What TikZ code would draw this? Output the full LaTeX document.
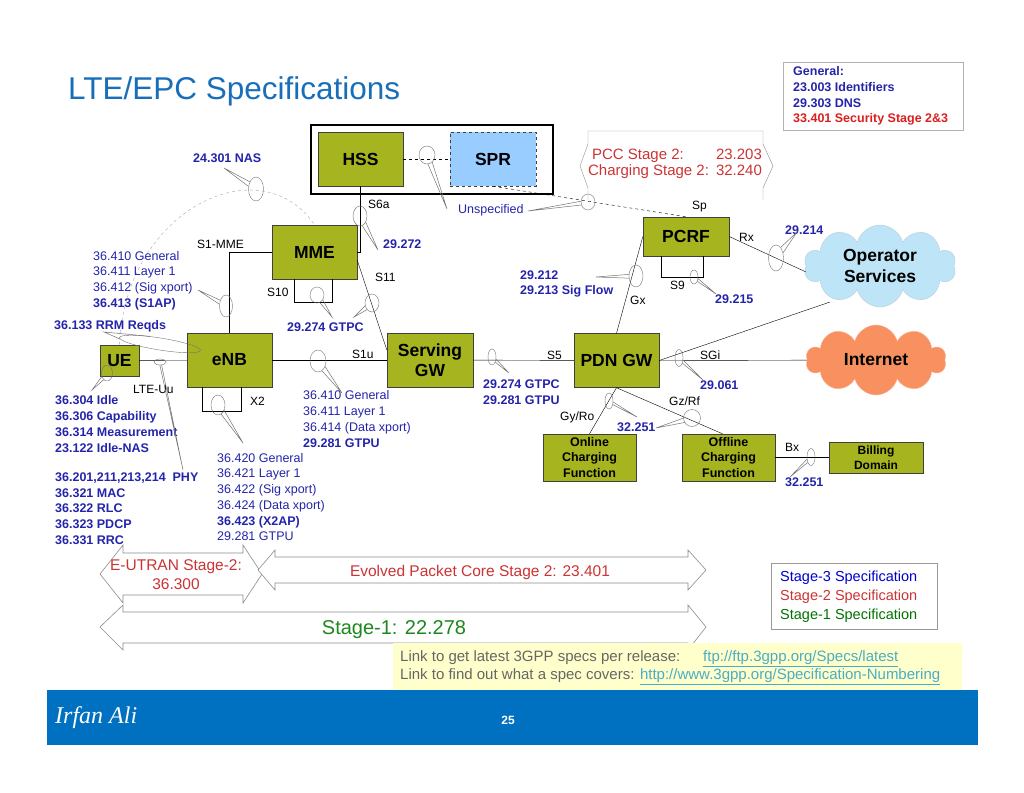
\documentclass[tikz,border=0pt]{standalone}
\usepackage{fontspec}
\setmainfont{Liberation Sans}
\newfontfamily\authorfont{Liberation Serif}
\usetikzlibrary{shapes.geometric,shapes.symbols,calc}

\definecolor{nodegreen}{RGB}{166,180,32}
\definecolor{sprblue}{RGB}{153,204,255}
\definecolor{specblue}{RGB}{36,36,170}
\definecolor{specred}{RGB}{220,30,30}
\definecolor{stagered}{RGB}{204,51,51}
\definecolor{stagegreen}{RGB}{30,135,30}
\definecolor{titleblue}{RGB}{25,110,185}
\definecolor{barblue}{RGB}{0,112,192}
\definecolor{cloudblue}{RGB}{190,228,248}
\definecolor{cloudorange}{RGB}{248,145,95}
\definecolor{linkblue}{RGB}{75,172,198}
\definecolor{notebg}{RGB}{255,255,204}

% ellipse marker plus its pointer to a label
\newcommand{\balloon}[2]{%
  \draw[wedge] let \p1=($(#2)-(#1.center)$), \n1={atan2(\y1,\x1)},
    \n2={\n1+15}, \n3={\n1-15} in (#1.\n2) -- (#2) -- (#1.\n3);}

\begin{document}
\begin{tikzpicture}[x=1pt,y=-1pt,
  nebox/.style={draw=black!75, fill=nodegreen, inner sep=0pt, align=center,
    minimum width=85, minimum height=54, font=\fontsize{17.5}{20}\selectfont\bfseries},
  smallbox/.style={nebox, minimum width=93, minimum height=47,
    font=\fontsize{12.5}{15.5}\selectfont\bfseries},
  iface/.style={anchor=west, inner sep=0pt, font=\fontsize{12}{14}\selectfont},
  spec/.style={anchor=west, inner sep=0pt, align=left, text=specblue,
    font=\fontsize{12.5}{15.7}\selectfont},
  bspec/.style={spec, font=\fontsize{12.5}{15.7}\selectfont\bfseries},
  ring/.style 2 args={draw=black!55, ellipse, inner sep=0pt,
    minimum width=#1, minimum height=#2},
  wedge/.style={draw=black!55, line width=0.5pt},
  stagearrow/.style={draw=black!45, fill=white, line width=0.6pt},
  ]
\useasboundingbox (0,0) rectangle (1024,792);

% title and general box
\node[anchor=west, inner sep=0pt, text=titleblue, font=\fontsize{31.5}{36}\selectfont] (title) at (68,91) {LTE/EPC Specifications};
\node[draw=black!30, anchor=north west, minimum width=180, minimum height=68, inner sep=0pt] (genbox) at (783,62) {};
\node[bspec] (gentext) at (793,96) {General:\\23.003 Identifiers\\29.303 DNS\\\textcolor{specred}{33.401 Security Stage 2\&3}};

% HSS / SPR
\node[draw, line width=1.6pt, anchor=north west, minimum width=242, minimum height=69, inner sep=0pt] (hssframe) at (310,124) {};
\node[nebox] (hss) at (360.5,159) {HSS};
\node[nebox, fill=sprblue, dashed, minimum width=86] (spr) at (493,159) {SPR};

% network elements
\node[nebox] (mme) at (314.5,252) {MME};
\node[nebox] (enb) at (229.5,360) {eNB};
\node[nebox, minimum width=39, minimum height=31] (ue) at (119.5,360.5) {UE};
\node[nebox, minimum width=86] (sgw) at (430,360) {Serving\\GW};
\node[nebox] (pdn) at (616.5,360.5) {PDN GW};
\node[nebox, minimum width=86, minimum height=39] (pcrf) at (686,236.5) {PCRF};
\node[smallbox] (ocf) at (589.5,457.5) {Online\\Charging\\Function};
\node[smallbox] (ofcf) at (728.5,457.5) {Offline\\Charging\\Function};
\node[smallbox, minimum width=94, minimum height=31, font=\fontsize{12}{14.5}\selectfont\bfseries] (bill) at (876,457.5) {Billing\\Domain};

% clouds
\node[cloud, cloud puffs=10, cloud ignores aspect, draw=cloudblue!80!black!70, fill=cloudblue, minimum width=152, minimum height=82, inner sep=0pt, align=center, font=\fontsize{17.5}{21.5}\selectfont\bfseries] (ops) at (880,266) {Operator\\Services};
\node[cloud, cloud puffs=10, cloud ignores aspect, draw=cloudorange!70!white, fill=cloudorange, minimum width=140, minimum height=70, inner sep=0pt, font=\fontsize{17.5}{20}\selectfont\bfseries] (inet) at (876,360) {Internet};
\coordinate (opsfoot) at (830,302);

% interfaces
\draw (ue) -- (enb);
\draw (enb) -- (sgw);
\draw (sgw) -- (pdn);
\draw (pdn.east) -- (inet);
\draw (mme.west) -| (enb.north);
\draw (hss.south) |- (mme.east);
\draw ([yshift=-8pt]mme.east) -- ([yshift=10pt]sgw.west);
\draw (pcrf.west) -- (pdn.north);
\draw (pcrf.east) -- ([yshift=-6pt]ops.west);
\draw (pdn.east) -- (opsfoot);
\draw (pdn.south) -- (ocf.north);
\draw (pdn.south) -- ([xshift=-6pt]ofcf.north);
\draw (ofcf.east) -- (bill.west);
\draw[dashed] (hss.east) -- (spr.west);
\draw[dashed] (spr.south) -- (pcrf.north);
\draw[dashed, draw=black!35] (ue.north) .. controls (125,210) and (260,145) .. (mme.north); % NAS
\draw ([xshift=-20pt]mme.south) -- ++(0,23) -- ++(38,0) -- ++(0,-23);    % S10
\draw ([xshift=-27.5pt]enb.south) -- ++(0,24) -- ++(39,0) -- ++(0,-24);  % X2
\draw ([xshift=-25pt]pcrf.south) -- ++(0,21) -- ++(42,0) -- ++(0,-21);   % S9

\node[iface] (s1mme) at (197,244) {S1-MME};
\node[iface] (s6a) at (368,204) {S6a};
\node[iface] (s11) at (375,277) {S11};
\node[iface] (s10) at (267,292) {S10};
\node[iface] (lteuu) at (133,389) {LTE-Uu};
\node[iface] (x2) at (250,401) {X2};
\node[iface] (s1u) at (352,354) {S1u};
\node[iface] (s5) at (547,355) {S5};
\node[iface] (sp) at (692,207) {Sp};
\node[iface] (rx) at (739,237) {Rx};
\node[iface] (s9) at (670,285) {S9};
\node[iface] (gx) at (630,300) {Gx};
\node[iface] (sgi) at (700,355) {SGi};
\node[iface] (gyro) at (560,417) {Gy/Ro};
\node[iface] (gzrf) at (669,401) {Gz/Rf};
\node[iface] (bx) at (785,447) {Bx};

% specification labels
\node[bspec] (nas) at (193,158) {24.301 NAS};
\node[spec] (unspec) at (458,210) {Unspecified};
\node[bspec] (hssspec) at (383,244) {29.272};
\node[spec] (s1apspec) at (93,280.5) {36.410 General\\36.411 Layer 1\\36.412 (Sig xport)\\\textbf{36.413 (S1AP)}};
\node[bspec] (gtpc) at (287,327) {29.274 GTPC};
\node[bspec] (rrm) at (54,326) {36.133 RRM Reqds};
\node[bspec] (idle) at (55,424) {36.304 Idle\\36.306 Capability\\36.314 Measurement\\23.122 Idle-NAS};
\node[bspec] (radio) at (55,508.5) {36.201,211,213,214\ \ PHY\\36.321 MAC\\36.322 RLC\\36.323 PDCP\\36.331 RRC};
\node[spec] (x2spec) at (217,497) {36.420 General\\36.421 Layer 1\\36.422 (Sig xport)\\36.424 (Data xport)\\\textbf{36.423 (X2AP)}\\29.281 GTPU};
\node[spec] (s1uspec) at (303,419) {36.410 General\\36.411 Layer 1\\36.414 (Data xport)\\\textbf{29.281 GTPU}};
\node[bspec] (s5spec) at (483,392.5) {29.274 GTPC\\29.281 GTPU};
\node[bspec] (gxspec) at (520,284) {29.212\\29.213 Sig Flow};
\node[bspec] (rxspec) at (785,230) {29.214};
\node[bspec] (s9spec) at (715,299) {29.215};
\node[bspec] (sgispec) at (700,385) {29.061};
\node[bspec] (chgspec) at (617,427) {32.251};
\node[bspec] (bxspec) at (785,482) {32.251};

% markers
\node[ring={15}{24}] (nasring) at (256,189) {};
\node[ring={16}{18}] (hssring) at (427,155) {};
\node[ring={14}{16}] (spring) at (588,202) {};
\node[ring={14}{20}] (s6aring) at (360,216) {};
\node[ring={13}{22}] (s1mmering) at (226,306) {};
\node[ring={14}{16}] (s10ring) at (317,295) {};
\node[ring={14}{18}] (s11ring) at (372,303) {};
\node[ring={82}{12}, rotate=-9] (rrmring) at (160,344) {};
\node[ring={12}{6}] (uuring) at (160,362) {};
\node[ring={11}{16}] (uering) at (107,373) {};
\node[ring={14}{20}] (x2ring) at (218,405) {};
\node[ring={16}{22}] (s1uring) at (318,361) {};
\node[ring={8}{16}] (s5ring) at (492,357) {};
\node[ring={14}{22}] (gxring) at (636,276) {};
\node[ring={15}{26}] (rxring) at (776,258) {};
\node[ring={8}{14}] (s9ring) at (694,277) {};
\node[ring={8}{17}] (sgiring) at (679,358) {};
\node[ring={8}{16}] (gyroring) at (609,401) {};
\node[ring={17}{17}] (gzrfring) at (692,418) {};
\node[ring={8}{17}] (bxring) at (811,457) {};
\balloon{nasring}{224,168}
\balloon{hssring}{447,209}
\balloon{spring}{528,211}
\balloon{s6aring}{378,250}
\balloon{s1mmering}{198,290}
\balloon{s10ring}{332,317}
\balloon{s11ring}{354,317}
\balloon{rrmring}{104,332}
\balloon{uuring}{183,470}
\balloon{uering}{92,390}
\balloon{x2ring}{243,443}
\balloon{s1uring}{342,393}
\balloon{s5ring}{509,373}
\balloon{gxring}{596,277}
\balloon{rxring}{797,232}
\balloon{s9ring}{716,294}
\balloon{sgiring}{703,380}
\balloon{gyroring}{637,417}
\balloon{gzrfring}{656,428}
\balloon{bxring}{790,477}

% PCC / charging stage 2
\draw[draw=black!45] (588,200) -- (588,188) -- (580,166) -- (588,144) -- (588,131) -- (763,131) -- (763,144) -- (773,166) -- (763,188) -- (763,200);
\node[inner sep=0pt, text=stagered, font=\fontsize{15}{17}\selectfont] (pcc) at (675,164) {\begin{tabular}{@{}l@{\hspace{7pt}}l@{}}\hspace{4pt}PCC Stage 2: & 23.203\\[-1pt] Charging Stage 2: & 32.240\end{tabular}};

% stage arrows
\draw[stagearrow] (100,574) -- (123,545) -- (123,553) -- (243,553) -- (243,545) -- (262,574) -- (243,603) -- (243,595) -- (123,595) -- (123,603) -- cycle;
\draw[stagearrow] (258,570) -- (275,550) -- (275,557) -- (688,557) -- (688,550) -- (706,570) -- (688,590) -- (688,583) -- (275,583) -- (275,590) -- cycle;
\draw[stagearrow] (100,627) -- (123,605) -- (123,612) -- (688,612) -- (688,605) -- (706,627) -- (688,650) -- (688,643) -- (123,643) -- (123,650) -- cycle;
\node[inner sep=0pt, align=center, text=stagered, font=\fontsize{15.5}{19}\selectfont] (eutran) at (176,575) {E-UTRAN Stage-2:\\36.300};
\node[inner sep=0pt, text=stagered, font=\fontsize{15.5}{18}\selectfont] (epc) at (480,572) {Evolved Packet Core Stage 2: 23.401};
\node[inner sep=0pt, text=stagegreen, font=\fontsize{20}{24}\selectfont] (stage1) at (394,630) {Stage-1: 22.278};

% legend
\node[draw=black!40, anchor=north west, minimum width=166, minimum height=66, inner sep=0pt] (legend) at (771,563) {};
\node[anchor=west, inner sep=0pt, align=left, font=\fontsize{14.5}{19}\selectfont] (legtext) at (780,597) {\textcolor{blue!80!black}{Stage-3 Specification}\\\textcolor{stagered}{Stage-2 Specification}\\\textcolor{green!45!black}{Stage-1 Specification}};

% links
\node[fill=notebg, anchor=north west, minimum width=569, minimum height=47, inner sep=0pt] (notebox) at (393,643) {};
\node[anchor=west, inner sep=0pt, align=left, text=black!60, font=\fontsize{15}{18}\selectfont] (links) at (400,668) {Link to get latest 3GPP specs per release:\\Link to find out what a spec covers: \textcolor{linkblue}{\underline{http://www.3gpp.org/Specification-Numbering}}};
\node[anchor=west, inner sep=0pt, text=linkblue, font=\fontsize{15}{18}\selectfont] (ftp) at (703,659) {\underline{ftp://ftp.3gpp.org/Specs/latest}};

% footer
\node[fill=barblue, anchor=north west, minimum width=931, minimum height=55, inner sep=0pt] (bar) at (47,690) {};
\node[anchor=west, inner sep=0pt, text=white, font=\authorfont\itshape\fontsize{24}{28}\selectfont] (author) at (55,718) {Irfan Ali};
\node[inner sep=0pt, text=white, font=\fontsize{12}{14}\selectfont\bfseries] (page) at (508,720) {25};
\end{tikzpicture}
\end{document}
